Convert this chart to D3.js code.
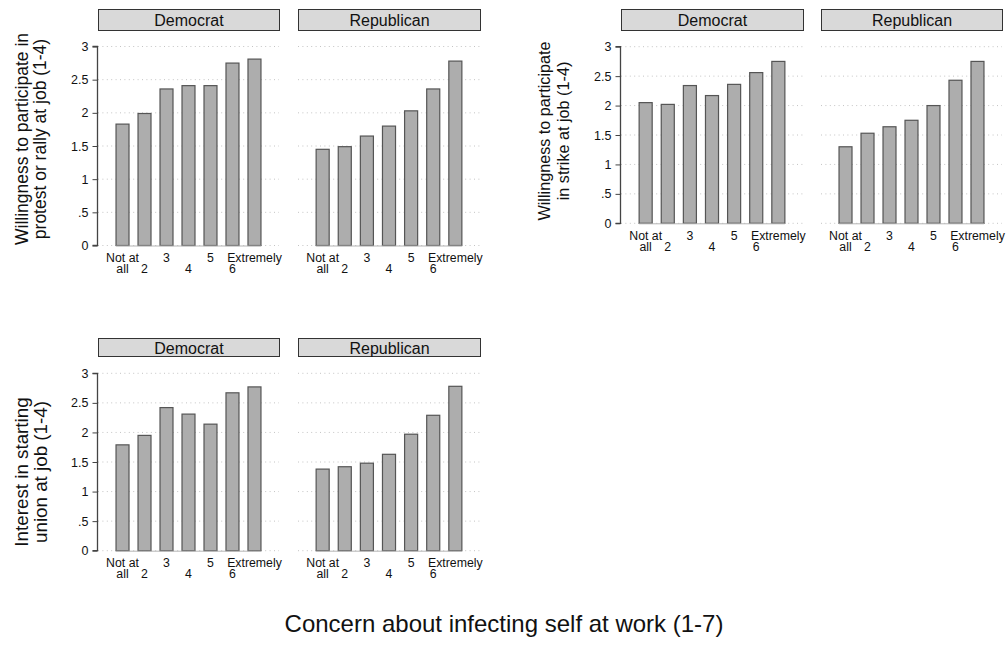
<!DOCTYPE html>
<html>
<head>
<meta charset="utf-8">
<script src="https://cdn.jsdelivr.net/npm/d3@7"></script>
<style>
  body { margin: 0; background: #fff; }
  svg { display: block; font-family: "Liberation Sans", Arial, Helvetica, sans-serif; }
</style>
</head>
<body>
<svg id="chart" width="1008" height="666"></svg>
<script>
// ---------- data ----------
const categories = [1, 2, 3, 4, 5, 6, 7];
const xTickLabels = ["Not at\nall", "2", "3", "4", "5", "6", "Extremely"];
const yTicks = [0, 0.5, 1, 1.5, 2, 2.5, 3];
const yTickLabels = ["0", ".5", "1", "1.5", "2", "2.5", "3"];
const groups = ["Democrat", "Republican"];

const protestDem = [1.83, 1.99, 2.36, 2.41, 2.41, 2.75, 2.81];
const protestRep = [1.45, 1.49, 1.65, 1.80, 2.03, 2.36, 2.78];
const strikeDem  = [2.05, 2.02, 2.34, 2.17, 2.36, 2.56, 2.75];
const strikeRep  = [1.30, 1.53, 1.64, 1.75, 2.00, 2.43, 2.75];
const unionDem   = [1.79, 1.95, 2.42, 2.31, 2.14, 2.67, 2.77];
const unionRep   = [1.38, 1.42, 1.48, 1.63, 1.97, 2.29, 2.78];

const yTitleProtest = ["Willingness to participate in", "protest or rally at job (1-4)"];
const yTitleStrike  = ["Willingness to participate", "in strike at job (1-4)"];
const yTitleUnion   = ["Interest in starting", "union at job (1-4)"];
const xTitle = "Concern about infecting self at work (1-7)";

// ---------- layout ----------
const svg = d3.select("#chart");

const graphs = [
  { series: [protestDem, protestRep], title: yTitleProtest,
    panels: [[98, 279], [298, 480]], yTop: 46.5, yBot: 245.5, strip: [9, 30],
    titleX: [21.5, 40], titleY: 139, titleSize: 17.5 },
  { series: [strikeDem, strikeRep], title: yTitleStrike,
    panels: [[621, 803], [821, 1002]], yTop: 46.7, yBot: 223.3, strip: [9, 30],
    titleX: [544, 562.5], titleY: 131, titleSize: 16.2 },
  { series: [unionDem, unionRep], title: yTitleUnion,
    panels: [[98, 279], [298, 480]], yTop: 373.3, yBot: 550.7, strip: [338, 356],
    titleX: [21.5, 40.5], titleY: 472, titleSize: 18.8 }
];

graphs.forEach(g => {
  const y = d3.scaleLinear().domain([0, 3]).range([g.yBot, g.yTop]);

  g.panels.forEach((px, pi) => {
    const x = d3.scaleBand().domain(categories).range(px)
      .paddingInner(0.41).paddingOuter(0.82);
    const gp = svg.append("g");

    // strip
    gp.append("rect")
      .attr("x", px[0] + 0.5).attr("y", g.strip[0] + 0.5)
      .attr("width", px[1] - px[0]).attr("height", g.strip[1] - g.strip[0])
      .attr("fill", "#d9d9d9").attr("stroke", "#333").attr("stroke-width", 1);
    gp.append("text")
      .attr("x", (px[0] + px[1]) / 2 + 0.5)
      .attr("y", (g.strip[0] + g.strip[1]) / 2 + 1)
      .attr("text-anchor", "middle").attr("dominant-baseline", "central")
      .attr("font-size", 16).attr("fill", "#111")
      .text(groups[pi]);

    // grid
    gp.selectAll(".grid").data(yTicks).join("line")
      .attr("x1", px[0]).attr("x2", px[1])
      .attr("y1", d => y(d)).attr("y2", d => y(d))
      .attr("stroke", "#c4c4c4").attr("stroke-width", 1)
      .attr("stroke-dasharray", "1,3.4");

    // bars
    const vals = g.series[pi];
    gp.selectAll(".bar").data(categories).join("rect")
      .attr("x", d => x(d))
      .attr("y", (d, i) => y(vals[i]))
      .attr("width", x.bandwidth())
      .attr("height", (d, i) => y(0) - y(vals[i]))
      .attr("fill", "#adadad").attr("stroke", "#555").attr("stroke-width", 1.2);
    gp.append("line")
      .attr("x1", x(1)).attr("x2", x(7) + x.bandwidth())
      .attr("y1", y(0) + 0.5).attr("y2", y(0) + 0.5)
      .attr("stroke", "#b5b5b5").attr("stroke-width", 1);

    // x tick labels (alternating rows)
    const xl = gp.append("g");
    categories.forEach((c, i) => {
      const lines = xTickLabels[i].split("\n");
      const row = (i % 2 === 0) ? 0 : 1;
      lines.forEach((ln, k) => {
        xl.append("text")
          .attr("x", x(c) + x.bandwidth() / 2)
          .attr("y", g.yBot + 16.5 + (row + k) * 11.2)
          .attr("text-anchor", "middle")
          .attr("font-size", 12.3).attr("fill", "#111")
          .text(ln);
      });
    });

    // y axis on first panel only
    if (pi === 0) {
      const axis = d3.axisLeft(y).tickValues(yTicks)
        .tickFormat((d, i) => yTickLabels[i]).tickSize(5).tickPadding(4);
      const ag = gp.append("g").attr("transform", `translate(${px[0] - 0.5},0)`).call(axis);
      ag.select(".domain").attr("stroke", "#444").attr("stroke-width", 1.3)
        .attr("d", `M-5,${y(3)}H0V${y(0)}H-5`);
      ag.selectAll(".tick line").attr("stroke", "#444").attr("stroke-width", 1);
      ag.selectAll(".tick text").attr("font-size", 12.5).attr("fill", "#111")
        .attr("font-family", "Liberation Sans, Arial, sans-serif");
    }
  });

  // y title
  g.title.forEach((t, k) => {
    svg.append("text")
      .attr("transform", `translate(${g.titleX[k]},${g.titleY}) rotate(-90)`)
      .attr("text-anchor", "middle").attr("dominant-baseline", "central")
      .attr("font-size", g.titleSize).attr("fill", "#111")
      .text(t);
  });
});

// overall x title
svg.append("text")
  .attr("x", 504).attr("y", 632)
  .attr("text-anchor", "middle")
  .attr("font-size", 24).attr("fill", "#111")
  .text(xTitle);
</script>
</body>
</html>
